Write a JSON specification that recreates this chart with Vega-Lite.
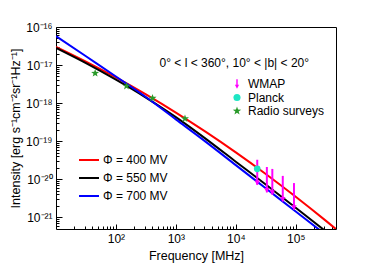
{
  "$schema": "https://vega.github.io/schema/vega-lite/v6.json",
  "width": 280,
  "height": 202,
  "autosize": {"type": "none"},
  "padding": {"left": 56, "top": 27, "right": 38, "bottom": 41},
  "background": "white",
  "config": {"font": "Liberation Sans", "view": {"stroke": "black", "strokeWidth": 1}},
  "datasets": {
    "curves": [
      {"series": "Φ = 400 MV", "f": 10, "I": 3.02e-17},
      {"series": "Φ = 400 MV", "f": 31.62, "I": 1.236e-17},
      {"series": "Φ = 400 MV", "f": 100, "I": 4.72e-18},
      {"series": "Φ = 400 MV", "f": 316.2, "I": 1.683e-18},
      {"series": "Φ = 400 MV", "f": 1000, "I": 5.61e-19},
      {"series": "Φ = 400 MV", "f": 3162, "I": 1.742e-19},
      {"series": "Φ = 400 MV", "f": 10000, "I": 5.05e-20},
      {"series": "Φ = 400 MV", "f": 31623, "I": 1.368e-20},
      {"series": "Φ = 400 MV", "f": 100000, "I": 3.45e-21},
      {"series": "Φ = 400 MV", "f": 316228, "I": 8.13e-22},
      {"series": "Φ = 400 MV", "f": 501187, "I": 4.47e-22},
      {"series": "Φ = 550 MV", "f": 10, "I": 2.82e-17},
      {"series": "Φ = 550 MV", "f": 31.62, "I": 1.122e-17},
      {"series": "Φ = 550 MV", "f": 100, "I": 4.12e-18},
      {"series": "Φ = 550 MV", "f": 316.2, "I": 1.396e-18},
      {"series": "Φ = 550 MV", "f": 1000, "I": 4.27e-19},
      {"series": "Φ = 550 MV", "f": 3162, "I": 1.148e-19},
      {"series": "Φ = 550 MV", "f": 10000, "I": 2.88e-20},
      {"series": "Φ = 550 MV", "f": 31623, "I": 7.24e-21},
      {"series": "Φ = 550 MV", "f": 100000, "I": 1.778e-21},
      {"series": "Φ = 550 MV", "f": 316228, "I": 4.27e-22},
      {"series": "Φ = 700 MV", "f": 10, "I": 5.75e-17},
      {"series": "Φ = 700 MV", "f": 31.62, "I": 1.698e-17},
      {"series": "Φ = 700 MV", "f": 100, "I": 5.01e-18},
      {"series": "Φ = 700 MV", "f": 316.2, "I": 1.445e-18},
      {"series": "Φ = 700 MV", "f": 1000, "I": 3.72e-19},
      {"series": "Φ = 700 MV", "f": 3162, "I": 9.55e-20},
      {"series": "Φ = 700 MV", "f": 10000, "I": 2.34e-20},
      {"series": "Φ = 700 MV", "f": 31623, "I": 5.75e-21},
      {"series": "Φ = 700 MV", "f": 100000, "I": 1.413e-21},
      {"series": "Φ = 700 MV", "f": 316228, "I": 3.47e-22}
    ],
    "wmap": [
      {"f": 22800, "top": 3.24e-20, "tip": 7.1e-21},
      {"f": 33000, "top": 2.09e-20, "tip": 4.5e-21},
      {"f": 40700, "top": 1.86e-20, "tip": 3.9e-21},
      {"f": 60800, "top": 1.22e-20, "tip": 2.6e-21},
      {"f": 93500, "top": 7.9e-21, "tip": 1.58e-21}
    ],
    "points": [
      {"kind": "Planck", "f": 22800, "I": 1.87e-20},
      {"kind": "Radio surveys", "f": 45, "I": 6.1e-18},
      {"kind": "Radio surveys", "f": 150, "I": 2.8e-18},
      {"kind": "Radio surveys", "f": 408, "I": 1.35e-18},
      {"kind": "Radio surveys", "f": 1420, "I": 3.9e-19}
    ],
    "note": [{"label": "0° < l < 360°, 10° < |b| < 20°", "f": 9440, "I": 1.15e-17}]
  },
  "resolve": {
    "scale": {"color": "independent", "shape": "independent"},
    "axis": {"x": "independent", "y": "independent"}
  },
  "layer": [
    {
      "data": {"name": "curves"},
      "mark": {"type": "line", "strokeWidth": 2, "clip": true, "interpolate": "monotone"},
      "encoding": {
        "x": {
          "field": "f", "type": "quantitative",
          "scale": {"type": "log", "domain": [10, 470000], "nice": false},
          "axis": {
            "orient": "bottom", "title": "Frequency [MHz]",
            "values": [100, 1000, 10000, 100000],
            "labelExpr": "datum.value < 500 ? '10²' : datum.value < 5000 ? '10³' : datum.value < 50000 ? '10⁴' : '10⁵'",
            "tickSize": -5, "tickColor": "black", "domain": false, "grid": false,
            "labelFontSize": 12, "labelColor": "black", "labelPadding": 9,
            "titleFontSize": 12.5, "titleFontWeight": "normal", "titleColor": "black", "titlePadding": 5
          }
        },
        "y": {
          "field": "I", "type": "quantitative",
          "scale": {"type": "log", "domain": [4.9e-22, 1e-16], "nice": false},
          "axis": {
            "orient": "left", "title": "Intensity [erg s⁻¹cm⁻²sr⁻¹Hz⁻¹]",
            "values": [1e-21, 1e-20, 1e-19, 1e-18, 1e-17, 1e-16],
            "labelExpr": "datum.value > 5e-17 ? '10⁻¹⁶' : datum.value > 5e-18 ? '10⁻¹⁷' : datum.value > 5e-19 ? '10⁻¹⁸' : datum.value > 5e-20 ? '10⁻¹⁹' : datum.value > 5e-21 ? '10⁻²⁰' : '10⁻²¹'",
            "tickSize": -6, "tickColor": "black", "domain": false, "grid": false,
            "labelFontSize": 12, "labelColor": "black", "labelPadding": 10,
            "titleFontSize": 12.5, "titleFontWeight": "normal", "titleColor": "black", "titlePadding": 3
          }
        },
        "color": {
          "field": "series", "type": "nominal",
          "scale": {"domain": ["Φ = 400 MV", "Φ = 550 MV", "Φ = 700 MV"], "range": ["#ff0000", "#000000", "#0000ff"]},
          "legend": {
            "orient": "none", "legendX": 22, "legendY": 122, "title": null,
            "symbolType": "stroke", "symbolSize": 400, "symbolStrokeWidth": 2,
            "labelFontSize": 12, "labelColor": "black", "labelOffset": 3, "rowPadding": 1
          }
        }
      }
    },
    {
      "data": {"name": "wmap"},
      "mark": {"type": "rule", "color": "#ff00ff", "strokeWidth": 2},
      "encoding": {
        "x": {
          "field": "f", "type": "quantitative",
          "axis": {
            "orient": "bottom", "title": null, "labels": false, "domain": false, "grid": false,
            "tickSize": -3, "tickColor": "black",
            "values": [20, 30, 40, 50, 60, 70, 80, 90, 200, 300, 400, 500, 600, 700, 800, 900, 2000, 3000, 4000, 5000, 6000, 7000, 8000, 9000, 20000, 30000, 40000, 50000, 60000, 70000, 80000, 90000, 200000, 300000, 400000]
          }
        },
        "y": {
          "field": "top", "type": "quantitative",
          "axis": {
            "orient": "left", "title": null, "labels": false, "domain": false, "grid": false,
            "tickSize": -3, "tickColor": "black",
            "values": [6e-22, 7e-22, 8e-22, 9e-22, 2e-21, 3e-21, 4e-21, 5e-21, 6e-21, 7e-21, 8e-21, 9e-21, 2e-20, 3e-20, 4e-20, 5e-20, 6e-20, 7e-20, 8e-20, 9e-20, 2e-19, 3e-19, 4e-19, 5e-19, 6e-19, 7e-19, 8e-19, 9e-19, 2e-18, 3e-18, 4e-18, 5e-18, 6e-18, 7e-18, 8e-18, 9e-18, 2e-17, 3e-17, 4e-17, 5e-17, 6e-17, 7e-17, 8e-17, 9e-17]
          }
        },
        "y2": {"field": "tip"}
      }
    },
    {
      "data": {"name": "wmap"},
      "mark": {"type": "point", "shape": "triangle-down", "filled": true, "color": "#ff00ff", "opacity": 1, "size": 30, "yOffset": -2},
      "encoding": {
        "x": {"field": "f", "type": "quantitative", "axis": null},
        "y": {"field": "tip", "type": "quantitative", "axis": null}
      }
    },
    {
      "data": {"name": "points"},
      "mark": {"type": "point", "filled": true, "opacity": 1, "size": 45},
      "encoding": {
        "x": {"field": "f", "type": "quantitative", "axis": null},
        "y": {"field": "I", "type": "quantitative", "axis": null},
        "color": {
          "field": "kind", "type": "nominal",
          "scale": {"domain": ["WMAP", "Planck", "Radio surveys"], "range": ["#ff00ff", "#1ee6c4", "#2a9a2a"]},
          "legend": {
            "orient": "none", "legendX": 175, "legendY": 51, "title": null,
            "symbolSize": 50, "labelFontSize": 12, "labelColor": "black", "labelOffset": 5, "rowPadding": 1.5
          }
        },
        "shape": {
          "field": "kind", "type": "nominal",
          "scale": {"domain": ["WMAP", "Planck", "Radio surveys"], "range": ["M-0.2,-1.35L0.2,-1.35L0.2,0.2L0.6,0.2L0,1.35L-0.6,0.2L-0.2,0.2Z", "circle", "M0,-1.25L0.294,-0.405L1.189,-0.386L0.475,0.155L0.735,1.011L0,0.5L-0.735,1.011L-0.475,0.155L-1.189,-0.386L-0.294,-0.405Z"]},
          "legend": {
            "orient": "none", "legendX": 175, "legendY": 51, "title": null,
            "symbolSize": 50, "labelFontSize": 12, "labelColor": "black", "labelOffset": 5, "rowPadding": 1.5
          }
        }
      }
    },
    {
      "data": {"name": "note"},
      "mark": {"type": "text", "fontSize": 12, "align": "center", "baseline": "middle", "color": "black"},
      "encoding": {
        "x": {"field": "f", "type": "quantitative", "axis": null},
        "y": {"field": "I", "type": "quantitative", "axis": null},
        "text": {"field": "label"}
      }
    }
  ]
}
